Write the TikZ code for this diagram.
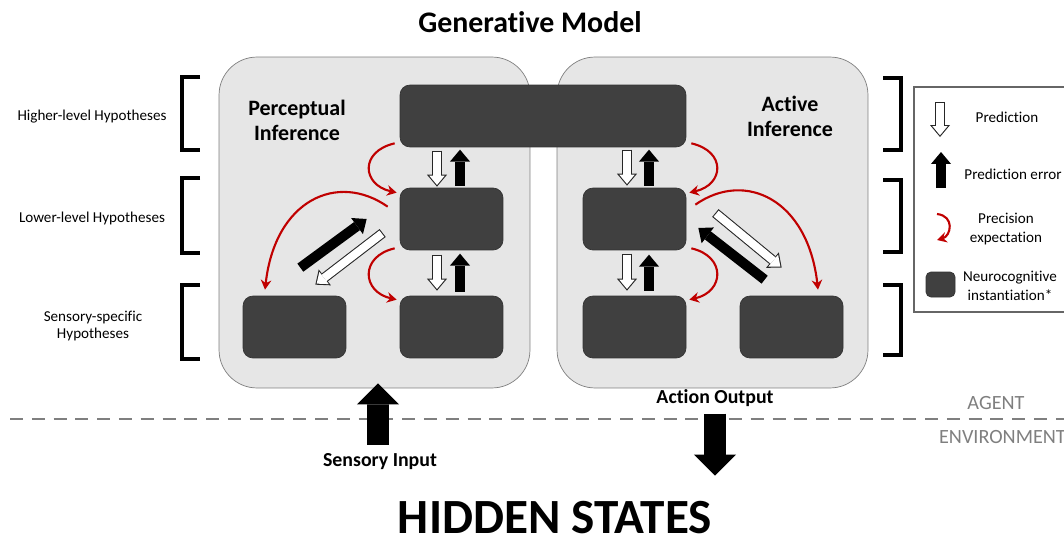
\documentclass[tikz,border=0pt]{standalone}
\usepackage{fontspec}
\setmainfont{Carlito}[Ligatures={NoCommon, NoRare}]
\usetikzlibrary{arrows.meta, calc}
\definecolor{panelgray}{HTML}{E6E6E6}
\definecolor{boxgray}{HTML}{404040}
\definecolor{precred}{HTML}{C00000}
\definecolor{linegray}{HTML}{7F7F7F}
\newcommand{\predarrow}[2]{\draw[predout] #1 -- #2; \draw[predin] #1 -- #2;}

\begin{document}
\begin{tikzpicture}[x=0.02cm, y=-0.02cm,
  panel/.style={rectangle, draw=linegray, fill=panelgray, rounded corners=0.76cm, minimum width=6.22cm, minimum height=6.62cm},
  unit/.style={rectangle, draw=black!80, fill=boxgray, rounded corners=0.2cm, minimum width=2.06cm, minimum height=1.24cm},
  widebox/.style={unit, minimum width=5.72cm},
  heading/.style={font=\bfseries\fontsize{12.5}{14.2}\selectfont, align=center},
  level/.style={font=\fontsize{8.6}{9.8}\selectfont, align=center},
  legtext/.style={font=\fontsize{8.6}{10.5}\selectfont, align=center},
  iolabel/.style={font=\bfseries\fontsize{11.3}{13}\selectfont, inner sep=1pt},
  side/.style={font=\fontsize{11.5}{13}\selectfont, text=linegray, inner sep=1pt},
  errarrow/.style={line width=5.7pt, -{Triangle[length=6.8pt, width=11.4pt, line width=0pt]}},
  predout/.style={line width=5.7pt, black!85, -{Triangle[length=6.8pt, width=11.4pt, line width=0pt]}},
  predin/.style={line width=4.5pt, white, shorten <=0.6pt, shorten >=0.95pt, -{Triangle[length=5.3pt, width=8.8pt, line width=0pt]}},
  precision/.style={draw=precred, line width=1.2pt, -{Stealth[length=5.5pt, width=6pt]}},
  bigarrow/.style={line width=12.5pt, -{Triangle[length=12pt, width=24pt, line width=0pt]}},
  bracket/.style={line width=2.8pt},
  legframe/.style={draw=black!60, line width=0.6pt},
  divider/.style={draw=linegray, line width=1.7pt, dash pattern=on 7.4pt off 5pt}
]
  \useasboundingbox (0,0) rectangle (1064,544);

  % Title
  \node[font=\bfseries\fontsize{17}{20}\selectfont] (genmodel) at (530,22) {Generative Model};

  % Panels
  \node[panel] (percept) at (374.5,222.5) {};
  \node[panel] (active) at (712.5,222.5) {};
  \node[heading] (perctitle) at (297,120) {Perceptual\\Inference};
  \node[heading] (acttitle) at (790,116) {Active\\Inference};

  % Hypothesis units
  \node[widebox] (top) at (543,116) {};
  \node[unit] (midL) at (451.5,219) {};
  \node[unit] (botLL) at (294.5,327) {};
  \node[unit] (botLR) at (451.5,327) {};
  \node[unit] (midR) at (634.5,219) {};
  \node[unit] (botRL) at (634.5,327) {};
  \node[unit] (botRR) at (791.5,327) {};

  % Precision expectation
  \draw[precision] ([shift={(-5,-4)}]top.south west) .. controls +(-35,8) and +(-35,-8) .. ([shift={(-3,5)}]midL.north west);
  \draw[precision] ([shift={(-5,-2)}]midL.south west) .. controls +(-35,8) and +(-35,-8) .. ([shift={(-3,4)}]botLR.north west);
  \draw[precision] ([shift={(5,-4)}]top.south east) .. controls +(35,8) and +(35,-8) .. ([shift={(3,5)}]midR.north east);
  \draw[precision] ([shift={(5,-2)}]midR.south east) .. controls +(35,8) and +(35,-8) .. ([shift={(3,4)}]botRL.north east);
  \draw[precision] ([shift={(-12,19)}]midL.north west) .. controls +(-50,-35) and +(10,-90) .. ([shift={(-29.5,-6)}]botLL.north);
  \draw[precision] ([shift={(9,17)}]midR.north east) .. controls +(50,-35) and +(-10,-90) .. ([shift={(26.5,-6)}]botRR.north);

  % Predictions and prediction errors, perceptual side
  \predarrow{([shift={(-14.5,-37)}]midL.north)}{([shift={(-14.5,-1)}]midL.north)}
  \draw[errarrow] ([shift={(8.5,-2)}]midL.north) -- ([shift={(8.5,-38)}]midL.north);
  \predarrow{([shift={(-14.5,-41)}]botLR.north)}{([shift={(-14.5,-5)}]botLR.north)}
  \draw[errarrow] ([shift={(8.5,-4)}]botLR.north) -- ([shift={(8.5,-42)}]botLR.north);
  \draw[errarrow] ([shift={(-46,-28)}]botLL.north east) -- ([shift={(-33,0)}]midL.west);
  \predarrow{([shift={(-17,14)}]midL.west)}{([shift={(-31,-11)}]botLL.north east)}

  % Predictions and prediction errors, active side
  \predarrow{([shift={(-7.5,-38)}]midR.north)}{([shift={(-7.5,-2)}]midR.north)}
  \draw[errarrow] ([shift={(14.5,-2)}]midR.north) -- ([shift={(14.5,-38)}]midR.north);
  \predarrow{([shift={(-7.5,-42)}]botRL.north)}{([shift={(-7.5,-5)}]botRL.north)}
  \draw[errarrow] ([shift={(14.5,-5)}]botRL.north) -- ([shift={(14.5,-41)}]botRL.north);
  \predarrow{([shift={(29,-6)}]midR.east)}{([shift={(42,-28)}]botRR.north west)}
  \draw[errarrow] ([shift={(25,-16)}]botRR.north west) -- ([shift={(12,9)}]midR.east);

  % Levels
  \node[level] (higher) at (92,117) {Higher-level Hypotheses};
  \node[level] (lower) at (92,218) {Lower-level Hypotheses};
  \node[level] (sensory) at (93,326) {Sensory-specific\\Hypotheses};
  \draw[bracket] (200,77) -| (182,150) -- (200,150);
  \draw[bracket] (200,178) -| (182,253) -- (200,253);
  \draw[bracket] (200,285) -| (182,359) -- (200,359);
  \draw[bracket] (883,78) -| (901,150) -- (883,150);
  \draw[bracket] (883,180) -| (901,252) -- (883,252);
  \draw[bracket] (883,285) -| (901,355) -- (883,355);

  % Legend
  \draw[legframe] (914,87) rectangle (1075,312);
  \coordinate (lp1) at (940,102);
  \coordinate (lp2) at (940,137);
  \predarrow{(lp1)}{(lp2)}
  \node[legtext] (legpred) at (1007,117) {Prediction};
  \coordinate (le1) at (941,188);
  \coordinate (le2) at (941,152);
  \draw[errarrow] (le1) -- (le2);
  \node[legtext] (legerr) at (1013,174) {Prediction error};
  \coordinate (lr1) at (937,214);
  \coordinate (lr2) at (937,240);
  \draw[precision] (lr1) .. controls +(18,2) and +(14,-4) .. (lr2);
  \node[legtext] (legprec) at (1006,229) {Precision\\expectation};
  \node[unit, minimum width=0.58cm, minimum height=0.5cm, rounded corners=0.1cm] (legunit) at (940.5,284.5) {};
  \node[legtext] (legneuro) at (1010,286) {Neurocognitive\\instantiation*};

  % Agent / environment
  \draw[divider] (10,419) -- (1070,419);
  \node[side] (agent) at (996,403) {AGENT};
  \node[side, anchor=west] (environ) at (937,437) {ENVIRONMENT};
  \node[iolabel] (sensin) at (380,462) {Sensory Input};
  \node[iolabel] (actout) at (715,398) {Action Output};
  \draw[bigarrow] ([shift={(-2,-7)}]sensin.north) -- ([shift={(3.5,-5)}]percept.south);
  \draw[bigarrow] ([shift={(0,5)}]actout.south) -- ([shift={(0,67)}]actout.south);
  \node[font=\bfseries\fontsize{28}{32}\selectfont, inner sep=0pt] (hidden) at (555,518) {HIDDEN STATES};
\end{tikzpicture}
\end{document}
